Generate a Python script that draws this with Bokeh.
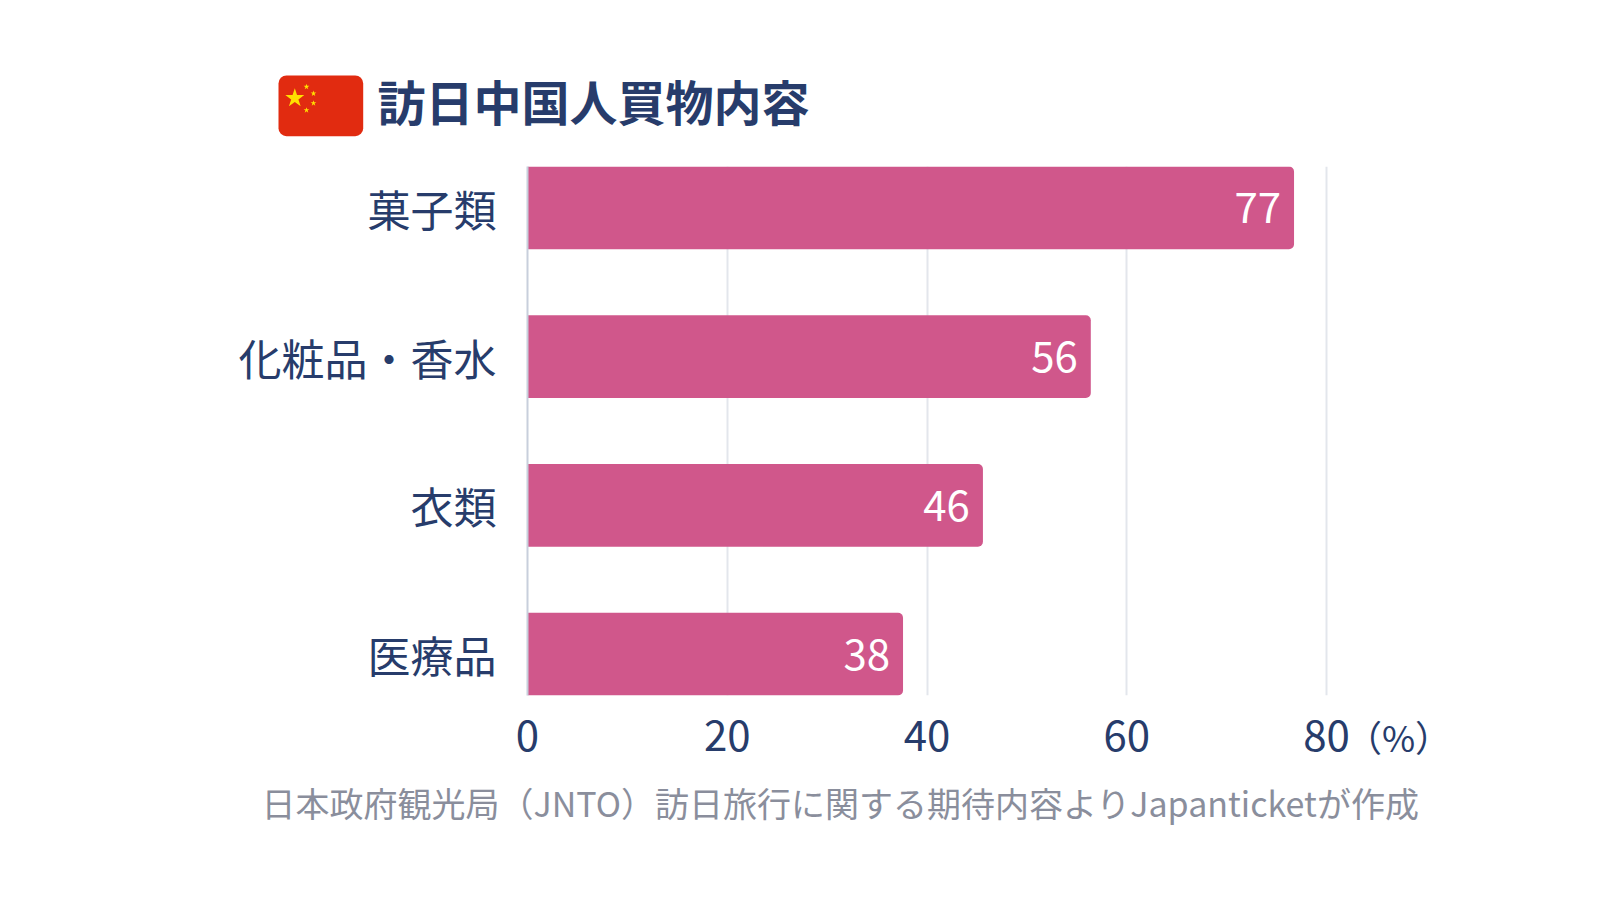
from bokeh.embed import file_html
from bokeh.resources import INLINE
from bokeh.plotting import figure
from bokeh.layouts import column
from bokeh.models import ColumnDataSource, FactorRange, Range1d, FixedTicker
from bokeh.core.properties import value

categories = ["菓子類", "化粧品・香水", "衣類", "医療品"]
bar_values = [76.75, 56.4, 45.6, 37.6]
value_labels = ["77", "56", "46", "38"]
x_ticks = [0, 20, 40, 60, 80]
title = "訪日中国人買物内容"
source_note = "日本政府観光局（JNTO）訪日旅行に関する期待内容よりJapanticketが作成"
unit = "（%）"

# Flag decoration, in page pixels
star_x = [294.3, 306, 313, 313, 306]
star_y = [97.7, 86.3, 93, 102.7, 109.7]
star_size = [20, 6, 6, 6, 6]

FONT = "Noto Sans CJK JP"
INK = "#273c6b"
W = 1584
LEFT, TOP, BOTTOM, MAIN_END, PAGE_END = 527, 166, 695, 775, 884
PX_PER_UNIT = 9.9875
RIGHT = 1398


def strip(y0, y1):
    """A figure whose frame fills it and whose data coordinates are page pixels."""
    f = figure(width=W, height=y1 - y0, output_backend="svg", toolbar_location=None,
               x_range=Range1d(0, W), y_range=Range1d(y1, y0), min_border=0, frame_align=False,
               x_axis_location=None, y_axis_location=None, border_fill_color="white")
    f.grid.visible = False
    f.outline_line_color = None
    return f


header = strip(0, TOP)
header.quad(left=[278], right=[362.7], top=[75], bottom=[135.7], fill_color="#e12b10", line_color=None,
            border_radius=8)
header.scatter(x=star_x, y=star_y, size=star_size, marker="star", fill_color="#ffe000", line_color=None)
header.text(x=[377], y=[99], text=[title], text_font=value(FONT), text_font_style="bold", text_font_size="48px",
            text_color=INK, text_baseline="middle", text_align="left")

src = ColumnDataSource(dict(cat=categories, val=bar_values, lab=value_labels))
h = 0.557
p = figure(width=W, height=MAIN_END - TOP, output_backend="svg", toolbar_location=None, frame_align=False,
           x_range=Range1d(0, (RIGHT - LEFT) / PX_PER_UNIT),
           y_range=FactorRange(factors=categories[::-1], range_padding=(h - 1) / 2, range_padding_units="absolute"),
           min_border_left=LEFT, min_border_right=W - RIGHT,
           min_border_top=0, min_border_bottom=MAIN_END - BOTTOM,
           background_fill_color="white", border_fill_color="white")
p.outline_line_color = None
p.ygrid.visible = False
p.xgrid.grid_line_color = "#e3e6ec"
p.xgrid.grid_line_width = 2
p.xgrid.ticker = FixedTicker(ticks=x_ticks)

p.xaxis.ticker = FixedTicker(ticks=x_ticks)
p.xaxis.axis_line_color = None
p.xaxis.major_tick_line_color = None
p.xaxis.minor_tick_line_color = None
p.xaxis.major_label_text_font = FONT
p.xaxis.major_label_text_font_size = "42px"
p.xaxis.major_label_text_color = INK
p.xaxis.major_label_standoff = 18
p.xaxis.axis_label = unit
p.xaxis.axis_label_align = "end"
p.xaxis.axis_label_standoff = -44
p.xaxis.axis_label_text_font = FONT
p.xaxis.axis_label_text_font_size = "36px"
p.xaxis.axis_label_text_font_style = "normal"
p.xaxis.axis_label_text_color = INK

p.yaxis.axis_line_color = "#c8cfdc"
p.yaxis.axis_line_width = 2
p.yaxis.major_tick_line_color = None
p.yaxis.minor_tick_line_color = None
p.yaxis.major_label_text_font = FONT
p.yaxis.major_label_text_font_size = "43px"
p.yaxis.major_label_text_color = INK
p.yaxis.major_label_standoff = 25

p.hbar(y="cat", left=0, right="val", height=h, source=src, fill_color="#d0578b",
       line_color=None, border_radius=(0, 5, 5, 0))
p.text(x="val", y="cat", text="lab", source=src, x_offset=-13, text_align="right",
       text_baseline="middle", text_color="white", text_font=value(FONT), text_font_size="42px")

footer = strip(MAIN_END, PAGE_END)
footer.text(x=[261], y=[802], text=[source_note], text_font=value(FONT), text_font_size="34px",
            text_color="#8a8e9c", text_baseline="middle", text_align="left")

page = column(header, p, footer, spacing=0)
open("out.html", "w").write(file_html(page, INLINE))
